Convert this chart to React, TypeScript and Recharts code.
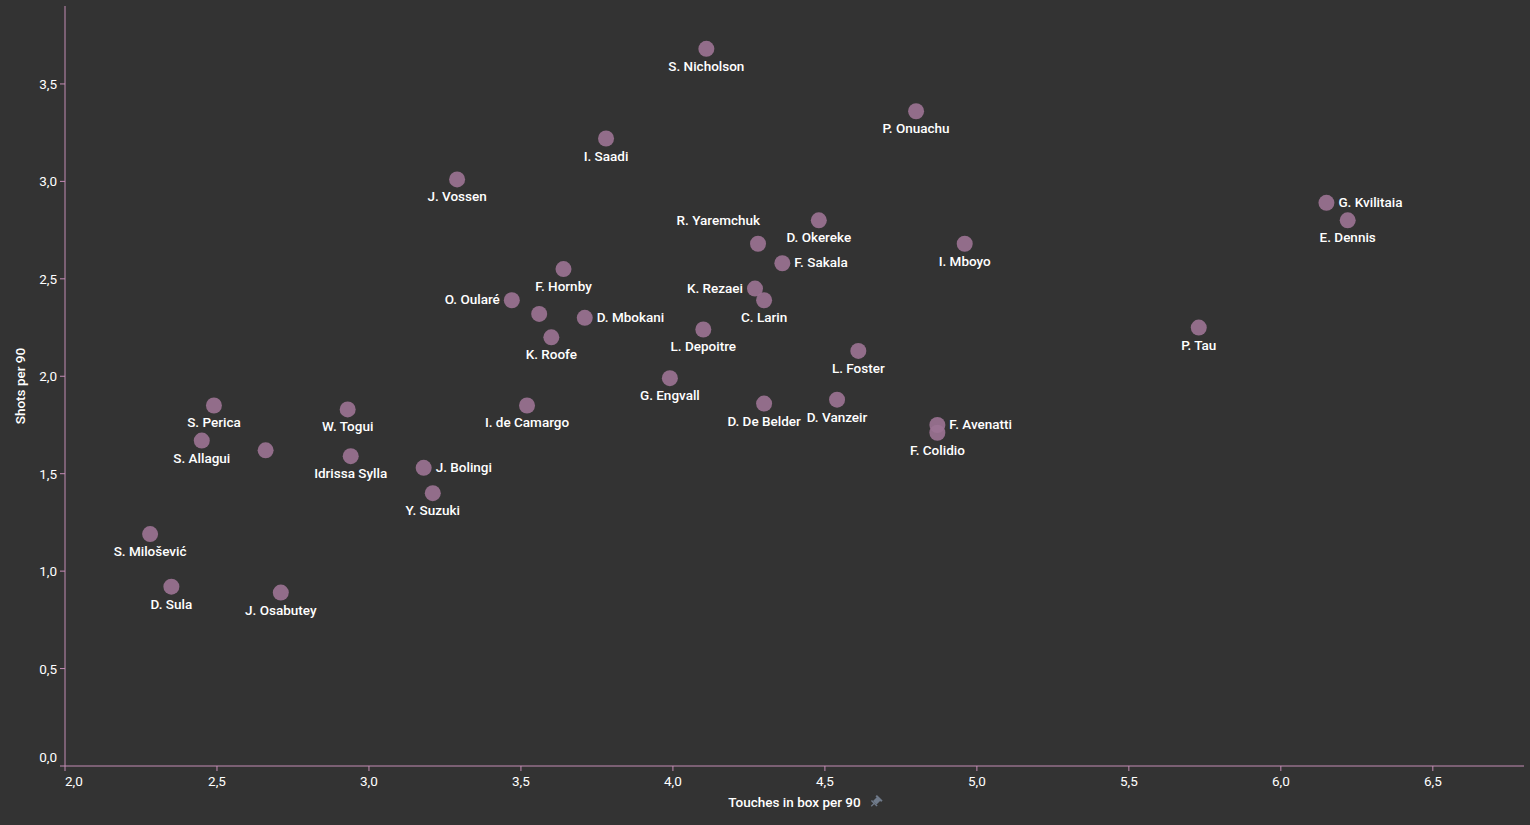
import React from 'react';
import { ScatterChart, Scatter, XAxis, YAxis } from 'recharts';

// players, touches in box per 90, shots per 90
const players = [
  'S. Nicholson', 'P. Onuachu', 'I. Saadi', 'J. Vossen', 'G. Kvilitaia', 'E. Dennis',
  'D. Okereke', 'R. Yaremchuk', 'I. Mboyo', 'F. Sakala', 'F. Hornby', 'O. Oularé',
  'K. Rezaei', 'C. Larin', '', 'D. Mbokani', 'K. Roofe', 'L. Depoitre', 'P. Tau',
  'L. Foster', 'G. Engvall', 'S. Perica', 'I. de Camargo', 'W. Togui', 'D. De Belder',
  'D. Vanzeir', 'F. Avenatti', 'F. Colidio', 'S. Allagui', '', 'Idrissa Sylla',
  'J. Bolingi', 'Y. Suzuki', 'S. Milošević', 'D. Sula', 'J. Osabutey',
];
const touches = [
  4.11, 4.80, 3.78, 3.29, 6.15, 6.22,
  4.48, 4.28, 4.96, 4.36, 3.64, 3.47,
  4.27, 4.30, 3.56, 3.71, 3.60, 4.10, 5.73,
  4.61, 3.99, 2.49, 3.52, 2.93, 4.30,
  4.54, 4.87, 4.87, 2.45, 2.66, 2.94,
  3.18, 3.21, 2.28, 2.35, 2.71,
];
const shots = [
  3.68, 3.36, 3.22, 3.01, 2.89, 2.80,
  2.80, 2.68, 2.68, 2.58, 2.55, 2.39,
  2.45, 2.39, 2.32, 2.30, 2.20, 2.24, 2.25,
  2.13, 1.99, 1.85, 1.85, 1.83, 1.86,
  1.88, 1.75, 1.71, 1.67, 1.62, 1.59,
  1.53, 1.40, 1.19, 0.92, 0.89,
];
const xTicks = [2, 2.5, 3, 3.5, 4, 4.5, 5, 5.5, 6, 6.5];
const yTicks = [0, 0.5, 1, 1.5, 2, 2.5, 3, 3.5];

// where the name sits relative to its dot (default: below)
const labelSide: Record<string, string> = {
  'G. Kvilitaia': 'right',
  'F. Sakala': 'right',
  'D. Mbokani': 'right',
  'F. Avenatti': 'right',
  'J. Bolingi': 'right',
  'O. Oularé': 'left',
  'K. Rezaei': 'left',
  'R. Yaremchuk': 'above',
};

const data = players.map((name, i) => ({ name, x: touches[i], y: shots[i] }));

const BG = '#333333';
const AXIS = '#c48db5';
const DOT = '#9c7393';
const FONT = 'Roboto, "Noto Sans", sans-serif';

const fmt = (v: number) => v.toFixed(1).replace('.', ',');

const XTick = (props: any) => {
  const { x, y, payload, index } = props;
  return (
    <text x={x} y={y + 13} textAnchor={index === 0 ? 'start' : 'middle'} fill="#ffffff" fontSize={13.5} fontFamily={FONT}>
      {fmt(payload.value)}
    </text>
  );
};

const YTick = (props: any) => {
  const { x, y, payload } = props;
  const dy = payload.value === 0 ? -4 : 5;
  return (
    <text x={x - 1} y={y + dy} textAnchor="end" fill="#ffffff" fontSize={13.5} fontFamily={FONT}>
      {fmt(payload.value)}
    </text>
  );
};

const PlayerDot = (props: any) => {
  const { cx, cy, payload } = props;
  const side = labelSide[payload.name] || 'below';
  let tx = cx;
  let ty = cy + 22;
  let anchor = 'middle';
  if (side === 'right') {
    tx = cx + 12;
    ty = cy + 4;
    anchor = 'start';
  } else if (side === 'left') {
    tx = cx - 12;
    ty = cy + 4;
    anchor = 'end';
  } else if (side === 'above') {
    tx = cx + 2;
    ty = cy - 19;
    anchor = 'end';
  }
  return (
    <g>
      <circle cx={cx} cy={cy} r={8} fill={DOT} fillOpacity={0.9} />
      {payload.name && (
        <text x={tx} y={ty} textAnchor={anchor} fill="#ffffff" fontSize={13.5} fontWeight={500} fontFamily={FONT}>
          {payload.name}
        </text>
      )}
    </g>
  );
};

const XLabel = (props: any) => {
  const { viewBox } = props;
  const cx = viewBox.x + viewBox.width / 2;
  const y = viewBox.y + 41;
  return (
    <g>
      <text x={cx} y={y} textAnchor="middle" fill="#ffffff" fontSize={13.5} fontWeight={500} fontFamily={FONT}>
        Touches in box per 90
      </text>
      <g transform={`translate(${cx + 81}, ${y - 5}) rotate(45)`}>
        <rect x={-2.5} y={-5} width={5} height={6} fill="#6f7a8a" />
        <rect x={-4} y={-6} width={8} height={2} fill="#6f7a8a" />
        <line x1={0} y1={1} x2={0} y2={6} stroke="#6f7a8a" strokeWidth={1.2} />
        <rect x={-4} y={1} width={8} height={1.5} fill="#6f7a8a" />
      </g>
    </g>
  );
};

export default function App() {
  return (
    <div style={{ position: 'fixed', left: 0, top: 0, width: 1530, height: 825, background: BG }}>
      <ScatterChart width={1530} height={825} margin={{ top: 6, right: 6, bottom: 4, left: 0 }}>
        <XAxis
          type="number"
          dataKey="x"
          domain={[2, 6.8]}
          ticks={xTicks}
          interval={0}
          height={55}
          stroke={AXIS}
          tickLine={{ stroke: AXIS }}
          tickSize={5}
          tick={<XTick />}
          label={<XLabel />}
        />
        <YAxis
          type="number"
          dataKey="y"
          domain={[0, 3.9]}
          ticks={yTicks}
          interval={0}
          width={65}
          stroke={AXIS}
          tickLine={{ stroke: AXIS }}
          tickSize={5}
          tick={<YTick />}
          label={{
            value: 'Shots per 90',
            angle: -90,
            position: 'insideLeft',
            offset: 20,
            style: { textAnchor: 'middle', fill: '#ffffff', fontSize: 13.5, fontWeight: 500, fontFamily: FONT },
          }}
        />
        <Scatter data={data} shape={<PlayerDot />} isAnimationActive={false} />
      </ScatterChart>
    </div>
  );
}
